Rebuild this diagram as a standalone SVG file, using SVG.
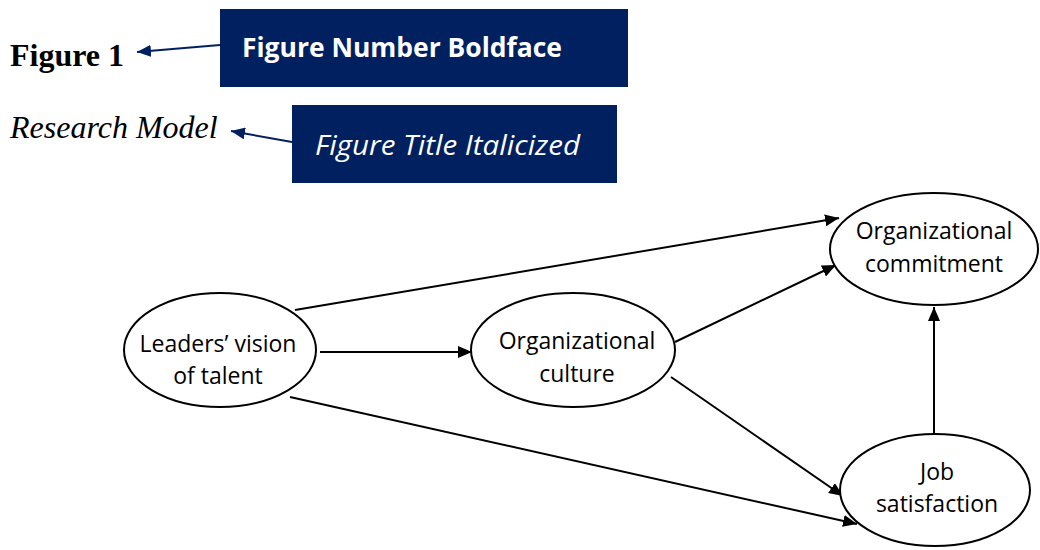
<svg xmlns="http://www.w3.org/2000/svg" width="1040" height="550" viewBox="0 0 1040 550">
<style>
.node ellipse{fill:#fff;stroke:#000;stroke-width:2}
.node text{font-family:"Open Sans","Liberation Sans",sans-serif;font-size:23px;fill:#000;text-anchor:middle}
.conn line{stroke:#000;stroke-width:2}
.callout rect{fill:#002060}
.callout text{fill:#fff;font-family:"Open Sans","Liberation Sans",sans-serif}
.nav line{stroke:#002060;stroke-width:2}
.fig{font-family:"Liberation Serif","Times New Roman",serif;font-size:32px;fill:#000}
</style>
<defs>
<marker id="ah" viewBox="0 0 10 10" refX="10" refY="5" markerWidth="7" markerHeight="6" markerUnits="strokeWidth" orient="auto" preserveAspectRatio="none">
<path d="M0,0 L10,5 L0,10 z" fill="#000"/>
</marker>
<marker id="ahn" viewBox="0 0 10 10" refX="10" refY="5" markerWidth="7" markerHeight="6" markerUnits="strokeWidth" orient="auto" preserveAspectRatio="none">
<path d="M0,0 L10,5 L0,10 z" fill="#002060"/>
</marker>
</defs>
<rect width="1040" height="550" fill="#fff"/>
<text class="fig" x="10" y="66" font-weight="bold">Figure 1</text>
<text class="fig" x="10" y="138" font-style="italic">Research Model</text>
<g id="callout-number" class="callout">
<rect x="220" y="9" width="408" height="78"/>
<text x="242" y="57" font-size="26" font-weight="bold" textLength="320" lengthAdjust="spacingAndGlyphs">Figure Number Boldface</text>
</g>
<g id="callout-title" class="callout">
<rect x="292" y="105" width="325" height="78"/>
<text x="315" y="155" font-size="27" font-style="italic" textLength="265" lengthAdjust="spacingAndGlyphs">Figure Title Italicized</text>
</g>
<g id="callout-arrows" class="nav">
<line x1="220" y1="45" x2="137" y2="52" marker-end="url(#ahn)"/>
<line x1="292" y1="142" x2="231" y2="131" marker-end="url(#ahn)"/>
</g>
<g id="connectors" class="conn">
<line x1="295" y1="310" x2="839" y2="218" marker-end="url(#ah)"/>
<line x1="320" y1="352" x2="472" y2="352" marker-end="url(#ah)"/>
<line x1="675" y1="342" x2="836" y2="265" marker-end="url(#ah)"/>
<line x1="671" y1="377" x2="843" y2="496" marker-end="url(#ah)"/>
<line x1="290" y1="397" x2="857" y2="524" marker-end="url(#ah)"/>
<line x1="934" y1="435" x2="934" y2="307" marker-end="url(#ah)"/>
</g>
<g id="leaders" class="node">
<ellipse cx="220" cy="350" rx="96" ry="57"/>
<text x="218" y="352">Leaders’ vision</text>
<text x="218" y="384">of talent</text>
</g>
<g id="culture" class="node">
<ellipse cx="573" cy="350" rx="102" ry="57"/>
<text x="577" y="349">Organizational</text>
<text x="577" y="382">culture</text>
</g>
<g id="commitment" class="node">
<ellipse cx="934" cy="249" rx="104" ry="56"/>
<text x="934" y="239">Organizational</text>
<text x="934" y="272">commitment</text>
</g>
<g id="job" class="node">
<ellipse cx="935" cy="490" rx="95" ry="56"/>
<text x="937" y="480">Job</text>
<text x="937" y="512">satisfaction</text>
</g>
</svg>
